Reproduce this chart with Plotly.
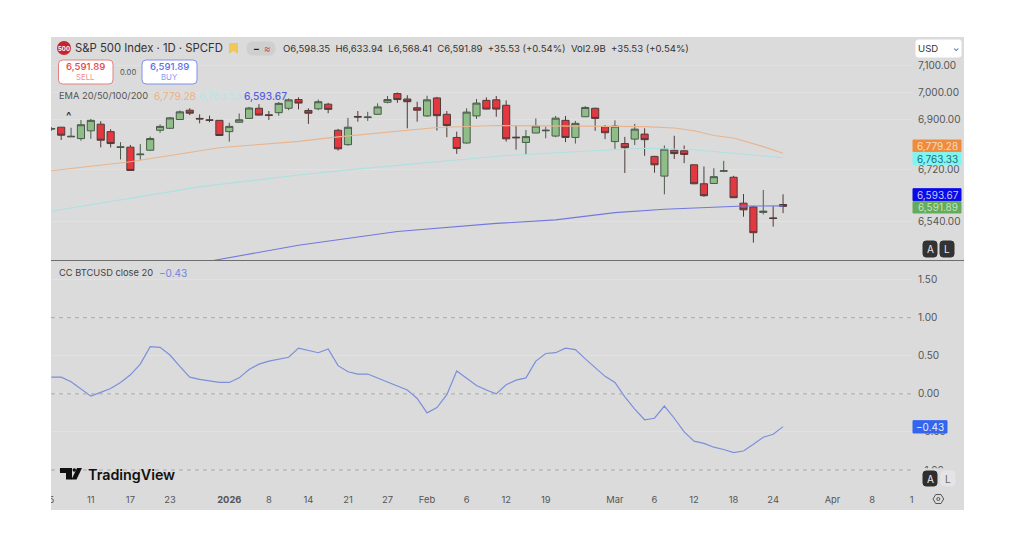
import math
import plotly.graph_objects as go

# the page keeps its 8px body margin, so the figure is 16px smaller than the window
W, H = 1008, 528
PAGE_MARGIN = 8

# trading days shown on the chart, then the empty days to the right of the last bar
trading_days = ["2025-12-05", "2025-12-08", "2025-12-09", "2025-12-10", "2025-12-11", "2025-12-12", "2025-12-15",
                "2025-12-16", "2025-12-17", "2025-12-18", "2025-12-19", "2025-12-22", "2025-12-23", "2025-12-24",
                "2025-12-26", "2025-12-29", "2025-12-30", "2025-12-31", "2026-01-02", "2026-01-05", "2026-01-06",
                "2026-01-07", "2026-01-08", "2026-01-09", "2026-01-12", "2026-01-13", "2026-01-14", "2026-01-15",
                "2026-01-16", "2026-01-20", "2026-01-21", "2026-01-22", "2026-01-23", "2026-01-26", "2026-01-27",
                "2026-01-28", "2026-01-29", "2026-01-30", "2026-02-02", "2026-02-03", "2026-02-04", "2026-02-05",
                "2026-02-06", "2026-02-09", "2026-02-10", "2026-02-11", "2026-02-12", "2026-02-13", "2026-02-17",
                "2026-02-18", "2026-02-19", "2026-02-20", "2026-02-23", "2026-02-24", "2026-02-25", "2026-02-26",
                "2026-02-27", "2026-03-02", "2026-03-03", "2026-03-04", "2026-03-05", "2026-03-06", "2026-03-09",
                "2026-03-10", "2026-03-11", "2026-03-12", "2026-03-13", "2026-03-16", "2026-03-17", "2026-03-18",
                "2026-03-19", "2026-03-20", "2026-03-23", "2026-03-24", "2026-03-25"]
future_days = ["2026-03-26", "2026-03-27", "2026-03-30", "2026-03-31", "2026-04-01", "2026-04-02", "2026-04-06",
               "2026-04-07", "2026-04-08", "2026-04-09", "2026-04-10", "2026-04-13", "2026-04-14"]

opens = [6866, 6873, 6838, 6832, 6860, 6884, 6857, 6800, 6801, 6774, 6790, 6862, 6869, 6901, 6935, 6905, 6900, 6898,
         6857, 6891, 6905, 6942, 6918, 6926, 6942, 6974, 6934, 6940, 6957, 6862, 6810, 6912, 6908, 6920, 6964, 6996,
         6976, 6944, 6914, 6980, 6920, 6836, 6816, 6914, 6971, 6973, 6953, 6837, 6818, 6852, 6860, 6841, 6898, 6836,
         6911, 6942, 6875, 6821, 6814, 6830, 6848, 6768, 6698, 6790, 6788, 6738, 6671, 6672, 6715, 6694, 6603, 6590,
         6571, 6552, 6598.35]
highs = [6874, 6873, 6871, 6899, 6903, 6895, 6866, 6819, 6809, 6812, 6839, 6883, 6910, 6934, 6942, 6920, 6915, 6899,
         6889, 6923, 6947, 6957, 6932, 6965, 6978, 6982, 6942, 6974, 6962, 6867, 6907, 6932, 6929, 6960, 6987, 7000,
         6990, 6966, 6988, 6984, 6932, 6857, 6942, 6976, 6982, 6987, 6971, 6879, 6863, 6905, 6875, 6914, 6914, 6896,
         6950, 6944, 6881, 6898, 6838, 6885, 6869, 6770, 6807, 6842, 6807, 6738, 6732, 6726, 6752, 6699, 6635, 6593,
         6649, 6593, 6633.94]
lows = [6860, 6827, 6838, 6824, 6831, 6800, 6800, 6757, 6716, 6756, 6789, 6853, 6867, 6900, 6917, 6887, 6891, 6842,
        6821, 6889, 6904, 6916, 6899, 6915, 6935, 6938, 6885, 6935, 6924, 6789, 6806, 6893, 6896, 6918, 6960, 6962,
        6869, 6893, 6911, 6861, 6837, 6777, 6814, 6903, 6938, 6911, 6821, 6792, 6776, 6851, 6833, 6837, 6819, 6814,
        6910, 6860, 6830, 6795, 6709, 6809, 6770, 6710, 6634, 6759, 6744, 6669, 6625, 6671, 6712, 6621, 6556, 6467,
        6564, 6522, 6568.41]
closes = [6868, 6844, 6840, 6882, 6898, 6826, 6814, 6802, 6718, 6776, 6832, 6876, 6907, 6929, 6924, 6903, 6898, 6843,
          6876, 6900, 6943, 6917, 6916, 6960, 6973, 6961, 6924, 6966, 6938, 6795, 6873, 6910, 6910, 6947, 6974, 6974,
          6966, 6935, 6973, 6915, 6879, 6796, 6928, 6961, 6939, 6939, 6831, 6835, 6839, 6877, 6862, 6906, 6836, 6887,
          6945, 6905, 6853, 6877, 6799, 6866, 6828, 6738, 6794, 6778, 6775, 6671, 6629, 6696, 6717, 6622, 6580, 6501,
          6575, 6550, 6591.89]

ema20_days = ["2025-12-05", "2025-12-17", "2025-12-31", "2026-01-13", "2026-01-20", "2026-01-28", "2026-02-03",
              "2026-02-11", "2026-02-20", "2026-02-27", "2026-03-05", "2026-03-10", "2026-03-12", "2026-03-16",
              "2026-03-18", "2026-03-23", "2026-03-25"]
ema20 = [6717, 6749, 6799, 6822, 6838, 6860, 6872, 6879, 6877, 6877, 6875, 6870, 6860, 6843, 6834, 6803, 6779.28]
ema50_days = ["2025-12-05", "2025-12-12", "2025-12-19", "2025-12-29", "2026-01-06", "2026-01-13", "2026-01-21",
              "2026-01-28", "2026-02-04", "2026-02-12", "2026-02-23", "2026-03-03", "2026-03-05", "2026-03-12",
              "2026-03-19", "2026-03-25"]
ema50 = [6575, 6604, 6632, 6660, 6681, 6702, 6720, 6736, 6752, 6771, 6783, 6793, 6797, 6792, 6776, 6763.33]
ema200_days = ["2025-12-30", "2026-01-13", "2026-01-28", "2026-02-11", "2026-02-20", "2026-03-02", "2026-03-09",
               "2026-03-16", "2026-03-19", "2026-03-25"]
ema200 = [6404, 6458, 6505, 6533, 6545, 6570, 6582, 6589, 6593, 6593.67]

# correlation with BTCUSD, one value per bar
corr = [0.22, 0.22, 0.16, 0.07, -0.03, 0.02, 0.07, 0.15, 0.25, 0.39, 0.62, 0.61, 0.51, 0.36, 0.22, 0.19, 0.17, 0.15,
        0.15, 0.21, 0.32, 0.39, 0.43, 0.46, 0.48, 0.60, 0.57, 0.54, 0.59, 0.37, 0.29, 0.26, 0.26, 0.21, 0.16, 0.11,
        0.05, -0.06, -0.25, -0.18, -0.01, 0.30, 0.20, 0.11, 0.05, 0.00, 0.12, 0.18, 0.21, 0.43, 0.53, 0.54, 0.60, 0.58,
        0.46, 0.35, 0.23, 0.15, -0.04, -0.20, -0.34, -0.32, -0.16, -0.32, -0.50, -0.62, -0.65, -0.70, -0.73, -0.77,
        -0.75, -0.66, -0.57, -0.53, -0.43]

x_tick_days = ["2025-12-05", "2025-12-11", "2025-12-17", "2025-12-23", "2026-01-02", "2026-01-08", "2026-01-14",
               "2026-01-21", "2026-01-27", "2026-02-02", "2026-02-06", "2026-02-12", "2026-02-19", "2026-03-02",
               "2026-03-06", "2026-03-12", "2026-03-18", "2026-03-24", "2026-04-01", "2026-04-08", "2026-04-14"]
x_tick_labels = ["5", "11", "17", "23", "<b>2026</b>", "8", "14", "21", "27", "Feb", "6", "12", "19", "Mar", "6", "12",
                 "18", "24", "Apr", "8", "1"]
price_ticks = [6540, 6720, 6900, 7000, 7100]
price_tick_labels = ["6,540.00", "6,720.00", "6,900.00", "7,000.00", "7,100.00"]
corr_ticks = [-1, -0.5, 0, 0.5, 1, 1.5]
corr_tick_labels = ["−1.00", "−0.50", "0.00", "0.50", "1.00", "1.50"]
corr_dashed = [-1, 0, 1]

FONT = "Inter"
GREY = "#555555"
PANEL = "#dbdbdb"


# all layout numbers below are window pixels
def px(x):
    return (x - PAGE_MARGIN) / W


def py(y):
    return 1 - (y - PAGE_MARGIN) / H


def rbox(x0, y0, x1, y1, fill, line=None, r=3):
    path = (f"M{px(x0 + r)},{py(y0)} L{px(x1 - r)},{py(y0)} Q{px(x1)},{py(y0)} {px(x1)},{py(y0 + r)} "
            f"L{px(x1)},{py(y1 - r)} Q{px(x1)},{py(y1)} {px(x1 - r)},{py(y1)} L{px(x0 + r)},{py(y1)} "
            f"Q{px(x0)},{py(y1)} {px(x0)},{py(y1 - r)} L{px(x0)},{py(y0 + r)} Q{px(x0)},{py(y0)} {px(x0 + r)},{py(y0)} Z")
    return dict(type="path", xref="paper", yref="paper", path=path, fillcolor=fill,
                line=dict(color=line or fill, width=1))


def poly(points, fill=None, line=None, width=1):
    path = "M" + " L".join(f"{px(a)},{py(b)}" for a, b in points) + " Z"
    return dict(type="path", xref="paper", yref="paper", path=path, fillcolor=fill or "rgba(0,0,0,0)",
                line=dict(color=line or "rgba(0,0,0,0)", width=width))


def label(x, y, text, color="#333333", size=10.5, anchor="left", weight=None):
    font = dict(family=FONT, size=size, color=color)
    if weight:
        font["weight"] = weight
    return dict(xref="paper", yref="paper", x=px(x), y=py(y), text=text, showarrow=False, xanchor=anchor,
                yanchor="middle", font=font, borderpad=0)


fig = go.Figure()

fig.add_trace(go.Scatter(x=ema20_days, y=ema20, mode="lines", line=dict(color="#e9b48c", width=1.1), yaxis="y"))
fig.add_trace(go.Scatter(x=ema50_days, y=ema50, mode="lines", line=dict(color="#aee0e0", width=1.1), yaxis="y"))
fig.add_trace(go.Scatter(x=ema200_days, y=ema200, mode="lines", line=dict(color="#7278e0", width=1.1), yaxis="y"))
fig.add_trace(go.Candlestick(x=trading_days, open=opens, high=highs, low=lows, close=closes, yaxis="y",
                             whiskerwidth=0,
                             increasing=dict(line=dict(color="#4a5a4a", width=1), fillcolor="#8fbd88"),
                             decreasing=dict(line=dict(color="#4f3a3a", width=1), fillcolor="#e2383f")))
fig.add_trace(go.Scatter(x=trading_days, y=corr, mode="lines", line=dict(color="#7c8fdc", width=1.2), yaxis="y2"))

shapes = []
# grey chart panel behind everything, plus the line between the panes
panel = dict(type="rect", xref="paper", yref="paper", x0=px(51), x1=px(964), y0=py(510), y1=py(37),
             fillcolor=PANEL, line=dict(width=0), layer="below")
shapes.append(panel)
shapes.append(dict(type="line", xref="paper", yref="paper", x0=px(51), x1=px(964), y0=py(260.5), y1=py(260.5),
                   line=dict(color="#6e6e6e", width=1.2)))
for v in corr_dashed:
    shapes.append(dict(type="line", xref="paper", yref="y2", x0=px(51), x1=px(912), y0=v, y1=v,
                       line=dict(color="#a8a8a8", width=1, dash="4px,4px")))

# the first date label is cut off by the left edge of the panel
shapes.append(dict(type="rect", xref="paper", yref="paper", x0=px(38), x1=px(51), y0=py(510), y1=py(490),
                   fillcolor="#ffffff", line=dict(width=0)))
# the buttons hide most of the -1.00 label, only its top shows
shapes.append(dict(type="rect", xref="paper", yref="paper", x0=px(916), x1=px(960), y0=py(486), y1=py(468.3),
                   fillcolor=PANEL, line=dict(width=0)))

# header badges
shapes.append(dict(type="circle", xref="paper", yref="paper", x0=px(57), x1=px(71), y0=py(55), y1=py(41),
                   fillcolor="#c8242b", line=dict(width=0)))
shapes.append(poly([(229, 43), (238, 43), (238, 54), (233.5, 51), (229, 54)], fill="#f0c85a"))
shapes.append(rbox(247, 42, 275, 55, "#cfcfcf", r=6))
shapes.append(rbox(58.5, 60, 113, 84, "#ffffff", line="#e58080", r=4))
shapes.append(rbox(142, 60, 197, 84, "#ffffff", line="#7f90ee", r=4))

# axis tags
shapes.append(rbox(916, 40, 961, 57, "#ffffff", r=2))
shapes.append(rbox(913, 140, 961, 151.7, "#ef8b3c", r=0))
shapes.append(rbox(913, 152.7, 961, 164.7, "#7ff5f2", r=0))
shapes.append(rbox(913, 188.7, 961, 200.7, "#0a0ae8", r=0))
shapes.append(rbox(913, 201.7, 961, 213, "#64ab5c", r=0))
shapes.append(rbox(913, 420.7, 947, 433, "#3366ee", r=0))

# A / L buttons
shapes.append(rbox(923, 241, 937, 257, "#333333", r=3))
shapes.append(rbox(940, 241, 954, 257, "#333333", r=3))
shapes.append(rbox(923, 471, 937, 486, "#2e2e2e", r=3))
shapes.append(rbox(941, 471, 955, 486, "#e4e4e4", r=3))

# TradingView mark
shapes.append(poly([(60, 468), (72, 468), (72, 479.5), (66, 479.5), (66, 473), (60, 473)], fill="#111111"))
shapes.append(dict(type="circle", xref="paper", yref="paper", x0=px(72.5), x1=px(76), y0=py(471.8), y1=py(468.3),
                   fillcolor="#111111", line=dict(width=0)))
shapes.append(poly([(77, 468), (82, 468), (76.5, 479.5), (71.5, 479.5)], fill="#111111"))

# gear icon on the time axis
shapes.append(poly([(933, 499), (935.7, 494.5), (941, 494.5), (943.7, 499), (941, 503.5), (935.7, 503.5)],
                   line="#555555", width=1))
shapes.append(dict(type="circle", xref="paper", yref="paper", x0=px(936.8), x1=px(939.8), y0=py(500.5), y1=py(497.5),
                   line=dict(color="#555555", width=1)))

annotations = [
    label(64, 48, "500", color="#ffffff", size=6, anchor="center", weight=700),
    label(74, 48, "S&P 500 Index · 1D · SPCFD", size=11.3, color="#333333"),
    label(252, 48, "−", size=10, color="#222222", weight=700),
    label(263, 48, "≈", size=10, color="#c2555f"),
    label(282, 48, "O6,598.35  H6,633.94  L6,568.41  C6,591.89  +35.53 (+0.54%)  Vol2.9B  +35.53 (+0.54%)",
          size=9.55, color="#333333"),
    label(85.7, 67, "6,591.89", color="#e0474c", size=9.6, anchor="center", weight=500),
    label(85.7, 77, "SELL", color="#ef8f90", size=7.8, anchor="center"),
    label(127.5, 72, "0.00", color="#555555", size=7.6, anchor="center"),
    label(169.5, 67, "6,591.89", color="#5a6ee8", size=9.6, anchor="center", weight=500),
    label(169.5, 77, "BUY", color="#8a9bf0", size=7.8, anchor="center"),
    label(58, 96, "EMA 20/50/100/200", size=9.3, color="#555555"),
    label(153, 96, "6,779.28", size=10.2, color="#eeb184"),
    label(198, 96, "6,763.33", size=10.2, color="#b5e6e8"),
    label(243, 96, "6,593.67", size=10.2, color="#5560e0", weight=500),
    label(68, 116, "^", size=11, color="#333333", anchor="center", weight=700),
    label(938.5, 48.5, "USD", size=9.6, color="#333333", anchor="right"),
    label(956, 48, "⌄", size=8, color="#444444", anchor="center"),
    label(937.5, 145.8, "6,779.28", size=10, color="#f5dcc6", anchor="center"),
    label(937.5, 158.7, "6,763.33", size=10, color="#1a6f78", anchor="center"),
    label(937.5, 194.7, "6,593.67", size=10, color="#c9c9ff", anchor="center"),
    label(937.5, 207.4, "6,591.89", size=10, color="#c4e4bf", anchor="center"),
    label(930, 249, "A", size=10, color="#e8e8e8", anchor="center"),
    label(947, 249, "L", size=10, color="#e8e8e8", anchor="center"),
    label(930, 478.5, "A", size=10, color="#f0f0f0", anchor="center"),
    label(948, 478.5, "L", size=10, color="#666666", anchor="center"),
    label(930, 427, "−0.43", size=10, color="#e6ecff", anchor="center"),
    label(58, 272.7, "CC BTCUSD close 20", size=9.3, color="#444444"),
    label(158, 272.7, "−0.43", size=10, color="#6f86e0"),
    label(87, 474.5, "TradingView", size=14.3, color="#111111", weight=600),
]

fig.update_layout(
    width=W, height=H,
    margin=dict(l=0, r=0, t=0, b=0),
    autosize=False,
    paper_bgcolor="#ffffff",
    plot_bgcolor=PANEL,
    showlegend=False,
    hovermode=False,
    boxgap=0.15,
    boxgroupgap=0.15,
    shapes=shapes,
    annotations=annotations,
    font=dict(family=FONT, size=9.6, color=GREY),
    xaxis=dict(type="category", categoryorder="array", categoryarray=trading_days + future_days,
               domain=[px(51), px(912)], range=[-0.03, 87.04], anchor="y2", rangeslider=dict(visible=False),
               automargin=False, tickmode="array", tickvals=x_tick_days, ticktext=x_tick_labels, showgrid=False,
               zeroline=False, showline=False, ticks="", tickangle=0, ticklabelstandoff=3,
               tickfont=dict(size=9.4, color=GREY)),
    yaxis=dict(type="log", domain=[py(260), py(37)], range=[math.log10(6408), math.log10(7208)], side="right",
               anchor="x", automargin=False, tickmode="array", tickvals=price_ticks, ticktext=price_tick_labels,
               gridcolor="#e1e1e1", gridwidth=1, zeroline=False, showline=False, ticks="", ticklabelstandoff=5,
               tickfont=dict(size=10, color=GREY)),
    yaxis2=dict(domain=[py(490), py(261)], range=[-1.262, 1.744], side="right", anchor="x", automargin=False,
                tickmode="array", tickvals=corr_ticks, ticktext=corr_tick_labels, gridcolor="#e1e1e1", gridwidth=1,
                zeroline=False, showline=False, ticks="", ticklabelstandoff=5, tickfont=dict(size=10, color=GREY)),
)

fig.write_html("out.html")
